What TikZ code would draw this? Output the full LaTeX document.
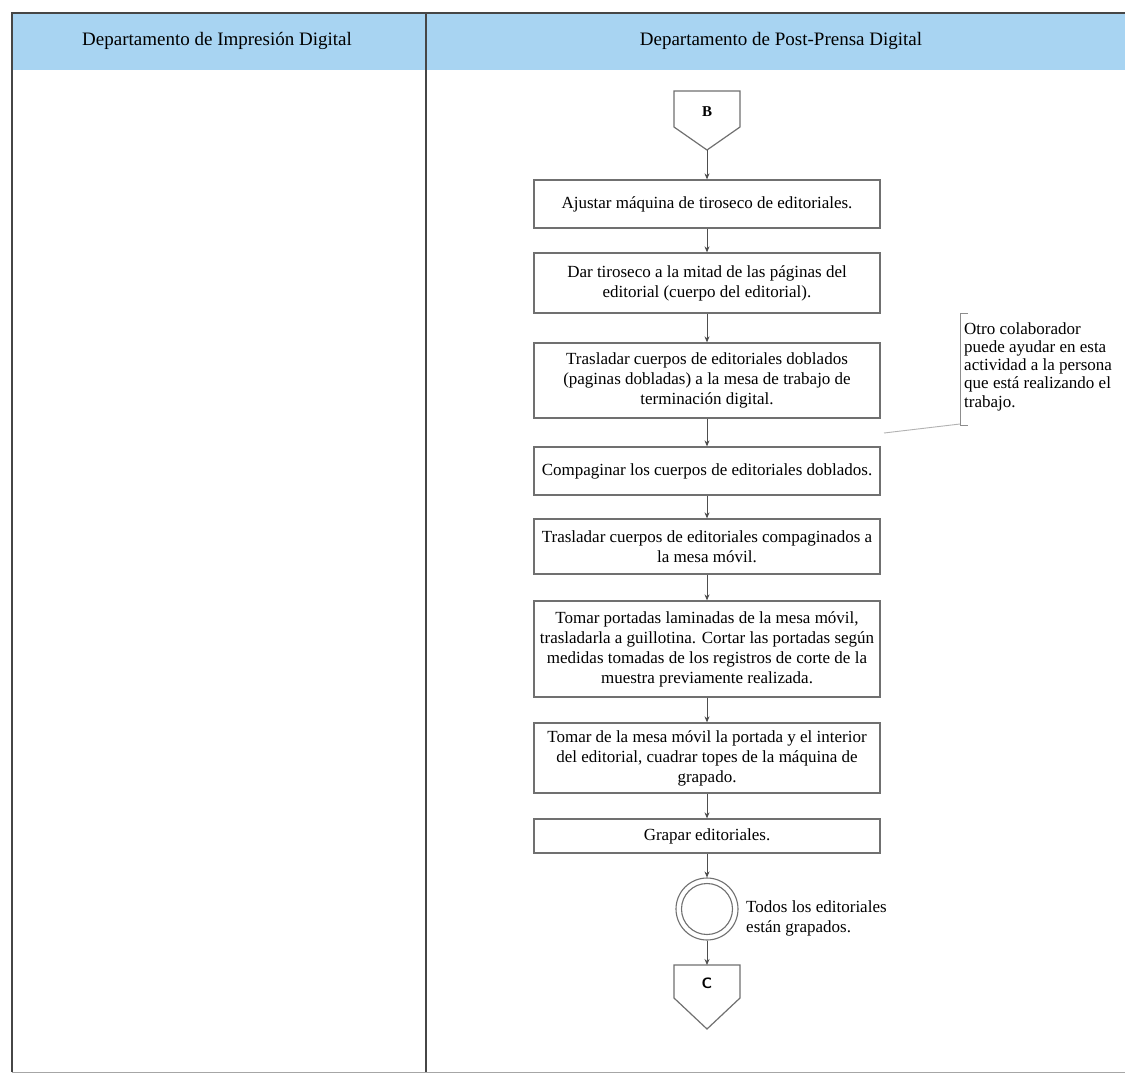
\documentclass[tikz,border=0pt]{standalone}
\usepackage{fontspec}
\setmainfont{Liberation Serif}
\usetikzlibrary{arrows.meta,shadows}
\definecolor{laneblue}{RGB}{168,212,242}
\definecolor{edgegray}{RGB}{112,112,112}
\definecolor{framegray}{RGB}{70,70,70}
\begin{document}
\begin{tikzpicture}[x=1pt,y=-1pt,
  task/.style={draw=edgegray, line width=1.3pt, fill=white,
    minimum width=346pt, align=center, inner sep=1pt,
    font=\fontsize{17}{20}\selectfont,
    drop shadow={shadow xshift=1.2pt, shadow yshift=-1.4pt, opacity=0.35, fill=black}},
  flow/.style={draw=edgegray!70!black, line width=0.8pt, -{Stealth[length=6pt,width=5pt]}},
  lanetitle/.style={font=\fontsize{19}{22}\selectfont, inner sep=0pt},
  offpage/.style={draw=edgegray, line width=1.2pt, fill=white},
  plain/.style={font=\fontsize{17}{20}\selectfont, align=left, inner sep=0pt}
]
\useasboundingbox (0,0) rectangle (1125,1074);
\fill[white] (0,0) rectangle (1125,1074);

% swimlane header band and frame
\fill[laneblue] (12,13) rectangle (1125,70);
\draw[framegray, line width=1.6pt] (12,1072) -- (12,13) -- (1125,13);
\draw[framegray, line width=1.6pt] (426,13) -- (426,1072);
\draw[black!35, line width=1pt] (12,1072) -- (1125,1072);
\node[lanetitle] (lane1) at (217,41) {Departamento de Impresión Digital};
\node[lanetitle] (lane2) at (781,41) {Departamento de Post-Prensa Digital};

% incoming off-page connector B
\draw[offpage] (674,91) -- (740,91) -- (740,127) -- (707,150) -- (674,127) -- cycle;
\node[font=\fontsize{15}{18}\selectfont\bfseries, inner sep=0pt] (B) at (707,112) {B};
\coordinate (Btip) at (707,150);

% process steps
\node[task, minimum height=48pt] (t1) at (707,204)
  {Ajustar máquina de tiroseco de editoriales.};
\node[task, minimum height=60pt] (t2) at (707,283)
  {Dar tiroseco a la mitad de las páginas del\\editorial (cuerpo del editorial).};
\node[task, minimum height=75pt] (t3) at (707,380.5)
  {Trasladar cuerpos de editoriales doblados\\(paginas dobladas) a la mesa de trabajo de\\terminación digital.};
\node[task, minimum height=48pt] (t4) at (707,471)
  {Compaginar los cuerpos de editoriales doblados.};
\node[task, minimum height=55pt] (t5) at (707,546.5)
  {Trasladar cuerpos de editoriales compaginados a\\la mesa móvil.};
\node[task, minimum height=96pt] (t6) at (707,649)
  {Tomar portadas laminadas de la mesa móvil,\\trasladarla a guillotina. Cortar las portadas según\\medidas tomadas de los registros de corte de la\\muestra previamente realizada.};
\node[task, minimum height=70pt] (t7) at (707,758)
  {Tomar de la mesa móvil la portada y el interior\\del editorial, cuadrar topes de la máquina de\\grapado.};
\node[task, minimum height=34pt] (t8) at (707,836)
  {Grapar editoriales.};

% intermediate event
\node[circle, draw=edgegray, line width=1.1pt, fill=white, minimum size=62pt, inner sep=0pt] (ev) at (707,909) {};
\draw[edgegray, line width=1.1pt] (ev.center) circle (25.5pt);
\node[plain, anchor=west] (evlabel) at (746,918) {Todos los editoriales\\están grapados.};

% outgoing off-page connector C
\draw[offpage] (674,965) -- (740,965) -- (740,998) -- (707,1029) -- (674,998) -- cycle;
\node[font=\fontsize{15}{18}\selectfont\bfseries\sffamily, inner sep=0pt] (C) at (707,983) {C};
\coordinate (Ctop) at (707,965);

% sequence flow
\draw[flow] (Btip) -- (t1.north);
\draw[flow] (t1.south) -- (t2.north);
\draw[flow] (t2.south) -- (t3.north);
\draw[flow] (t3.south) -- (t4.north);
\draw[flow] (t4.south) -- (t5.north);
\draw[flow] (t5.south) -- (t6.north);
\draw[flow] (t6.south) -- (t7.north);
\draw[flow] (t7.south) -- (t8.north);
\draw[flow] (t8.south) -- (ev.north);
\draw[flow] (ev.south) -- (Ctop);

% text annotation with its association
\node[font=\fontsize{17}{18.3}\selectfont, align=left, inner sep=0pt, anchor=north west] (note) at (964,322)
  {Otro colaborador\\puede ayudar en esta\\actividad a la persona\\que está realizando el\\trabajo.};
\draw[edgegray!80, line width=1pt] (968,313) -- (960,313) -- (960,425) -- (968,425);
\coordinate (brk) at (960,424);
\coordinate (assocEnd) at (884,433);
\draw[black!30, line width=0.9pt] (brk) -- (assocEnd);
\end{tikzpicture}
\end{document}
